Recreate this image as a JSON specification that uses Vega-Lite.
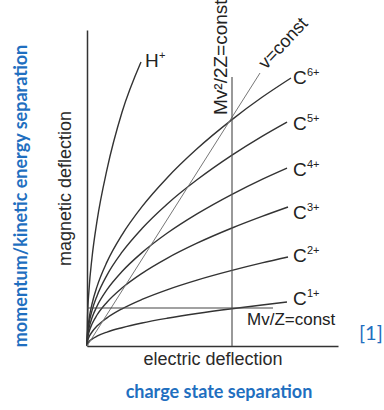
{
  "$schema": "https://vega.github.io/schema/vega-lite/v6.json",
  "width": 251,
  "height": 316,
  "autosize": {"type": "none"},
  "padding": {"left": 87, "top": 30, "right": 46, "bottom": 64},
  "background": "white",
  "config": {"view": {"stroke": null}},
  "datasets": {
    "curves": [
      {"s":"H","x":0,"y":0},{"s":"H","x":0.5,"y":27.9},{"s":"H","x":2,"y":55.9},{"s":"H","x":5,"y":88.3},{"s":"H","x":10,"y":124.9},{"s":"H","x":20,"y":176.6},{"s":"H","x":35,"y":233.7},{"s":"H","x":54,"y":284},
      {"s":"C6","x":0,"y":0},{"s":"C6","x":0.5,"y":13.3},{"s":"C6","x":2,"y":26.6},{"s":"C6","x":5,"y":42.0},{"s":"C6","x":10,"y":59.4},{"s":"C6","x":20,"y":84.1},{"s":"C6","x":35,"y":111.2},{"s":"C6","x":55,"y":139.4},{"s":"C6","x":80,"y":168.1},{"s":"C6","x":110,"y":197.2},{"s":"C6","x":145,"y":226.4},{"s":"C6","x":175,"y":248.7},{"s":"C6","x":204,"y":268},
      {"s":"C5","x":0,"y":0},{"s":"C5","x":0.5,"y":11.2},{"s":"C5","x":2,"y":22.4},{"s":"C5","x":5,"y":35.4},{"s":"C5","x":10,"y":50.1},{"s":"C5","x":20,"y":70.9},{"s":"C5","x":35,"y":93.8},{"s":"C5","x":55,"y":117.5},{"s":"C5","x":80,"y":141.8},{"s":"C5","x":110,"y":166.2},{"s":"C5","x":145,"y":190.9},{"s":"C5","x":175,"y":209.7},{"s":"C5","x":200,"y":224},
      {"s":"C4","x":0,"y":0},{"s":"C4","x":0.5,"y":8.9},{"s":"C4","x":2,"y":17.8},{"s":"C4","x":5,"y":28.2},{"s":"C4","x":10,"y":39.8},{"s":"C4","x":20,"y":56.3},{"s":"C4","x":35,"y":74.5},{"s":"C4","x":55,"y":93.4},{"s":"C4","x":80,"y":112.7},{"s":"C4","x":110,"y":132.1},{"s":"C4","x":145,"y":151.7},{"s":"C4","x":175,"y":166.7},{"s":"C4","x":200,"y":178},
      {"s":"C3","x":0,"y":0},{"s":"C3","x":0.5,"y":6.9},{"s":"C3","x":2,"y":13.9},{"s":"C3","x":5,"y":21.9},{"s":"C3","x":10,"y":31.0},{"s":"C3","x":20,"y":43.8},{"s":"C3","x":35,"y":58.0},{"s":"C3","x":55,"y":72.7},{"s":"C3","x":80,"y":87.7},{"s":"C3","x":110,"y":102.8},{"s":"C3","x":145,"y":118.0},{"s":"C3","x":175,"y":129.6},{"s":"C3","x":201,"y":139},
      {"s":"C2","x":0,"y":0},{"s":"C2","x":0.5,"y":4.4},{"s":"C2","x":2,"y":8.9},{"s":"C2","x":5,"y":14.0},{"s":"C2","x":10,"y":19.9},{"s":"C2","x":20,"y":28.1},{"s":"C2","x":35,"y":37.2},{"s":"C2","x":55,"y":46.6},{"s":"C2","x":80,"y":56.2},{"s":"C2","x":110,"y":65.9},{"s":"C2","x":145,"y":75.6},{"s":"C2","x":175,"y":83.1},{"s":"C2","x":201,"y":89},
      {"s":"C1","x":0,"y":0},{"s":"C1","x":0.5,"y":2.2},{"s":"C1","x":2,"y":4.4},{"s":"C1","x":5,"y":6.9},{"s":"C1","x":10,"y":9.8},{"s":"C1","x":20,"y":13.9},{"s":"C1","x":35,"y":18.3},{"s":"C1","x":55,"y":23.0},{"s":"C1","x":80,"y":27.7},{"s":"C1","x":110,"y":32.5},{"s":"C1","x":145,"y":37.3},{"s":"C1","x":175,"y":41.0},{"s":"C1","x":200,"y":44}
    ],
    "labels": [
      {"x":58,"y":279,"label":"H","sup":"+"},
      {"x":206,"y":262,"label":"C","sup":"6+"},
      {"x":206,"y":216,"label":"C","sup":"5+"},
      {"x":206,"y":170,"label":"C","sup":"4+"},
      {"x":206,"y":127,"label":"C","sup":"3+"},
      {"x":206,"y":84,"label":"C","sup":"2+"},
      {"x":206,"y":41,"label":"C","sup":"1+"}
    ]
  },
  "encoding": {
    "x": {"field": "x", "type": "quantitative", "scale": {"domain": [0, 251], "nice": false, "zero": false},
      "axis": {"title": "electric deflection", "domain": true, "domainColor": "#333", "domainWidth": 1.5, "ticks": false, "labels": false, "grid": false, "titleFont": "Liberation Sans", "titleFontSize": 18, "titleFontWeight": "normal", "titleColor": "#2a2a2a", "titlePadding": 4}},
    "y": {"field": "y", "type": "quantitative", "scale": {"domain": [0, 316], "nice": false, "zero": false},
      "axis": {"title": "magnetic deflection", "domain": true, "domainColor": "#333", "domainWidth": 1.5, "ticks": false, "labels": false, "grid": false, "titleFont": "Liberation Sans", "titleFontSize": 18, "titleFontWeight": "normal", "titleColor": "#2a2a2a", "titlePadding": 13}}
  },
  "layer": [
    {
      "data": {"name": "curves"},
      "mark": {"type": "line", "interpolate": "monotone", "color": "#333", "strokeWidth": 1.4},
      "encoding": {"detail": {"field": "s", "type": "nominal"}}
    },
    {
      "data": {"values": [{"x":0,"y":0},{"x":173,"y":273}]},
      "mark": {"type": "line", "color": "#777", "strokeWidth": 1},
      "encoding": {}
    },
    {
      "data": {"values": [{"x":145,"y":0},{"x":145,"y":269}]},
      "mark": {"type": "line", "color": "#555", "strokeWidth": 1.2},
      "encoding": {}
    },
    {
      "data": {"values": [{"x":0,"y":38},{"x":186,"y":38}]},
      "mark": {"type": "line", "color": "#444", "strokeWidth": 1.2},
      "encoding": {}
    },
    {
      "data": {"name": "labels"},
      "mark": {"type": "text", "font": "Liberation Sans", "fontSize": 19, "align": "left", "baseline": "alphabetic", "color": "#222"},
      "encoding": {"text": {"field": "label"}}
    },
    {
      "data": {"name": "labels"},
      "mark": {"type": "text", "font": "Liberation Sans", "fontSize": 11, "align": "left", "baseline": "alphabetic", "color": "#222", "dx": 14, "dy": -8},
      "encoding": {"text": {"field": "sup"}}
    },
    {
      "data": {"values": [{"x":160,"y":21,"label":"Mv/Z=const"}]},
      "mark": {"type": "text", "font": "Liberation Sans", "fontSize": 17, "align": "left", "baseline": "alphabetic", "color": "#222"},
      "encoding": {"text": {"field": "label"}}
    },
    {
      "data": {"values": [{"x":140,"y":231,"label":"Mv²/2Z=const"}]},
      "mark": {"type": "text", "font": "Liberation Sans", "fontSize": 19, "align": "left", "baseline": "alphabetic", "angle": 270, "color": "#222"},
      "encoding": {"text": {"field": "label"}}
    },
    {
      "data": {"values": [{"x":179,"y":276,"label":"v=const"}]},
      "mark": {"type": "text", "font": "Liberation Sans", "fontSize": 18, "align": "left", "baseline": "alphabetic", "angle": 313, "color": "#222"},
      "encoding": {"text": {"field": "label"}}
    },
    {
      "data": {"values": [{"x":-65,"y":150,"label":"momentum/kinetic energy separation"}]},
      "mark": {"type": "text", "font": "Lato", "fontWeight": "bold", "fontSize": 18, "align": "center", "baseline": "middle", "angle": 270, "color": "#1f6fc0"},
      "encoding": {"text": {"field": "label"}}
    },
    {
      "data": {"values": [{"x":132,"y":-47,"label":"charge state separation"}]},
      "mark": {"type": "text", "font": "Lato", "fontWeight": "bold", "fontSize": 18, "align": "center", "baseline": "middle", "color": "#1f6fc0"},
      "encoding": {"text": {"field": "label"}}
    },
    {
      "data": {"values": [{"x":272,"y":12,"label":"[1]"}]},
      "mark": {"type": "text", "font": "Lato", "fontSize": 20, "align": "left", "baseline": "middle", "color": "#1f6fc0"},
      "encoding": {"text": {"field": "label"}}
    }
  ]
}
